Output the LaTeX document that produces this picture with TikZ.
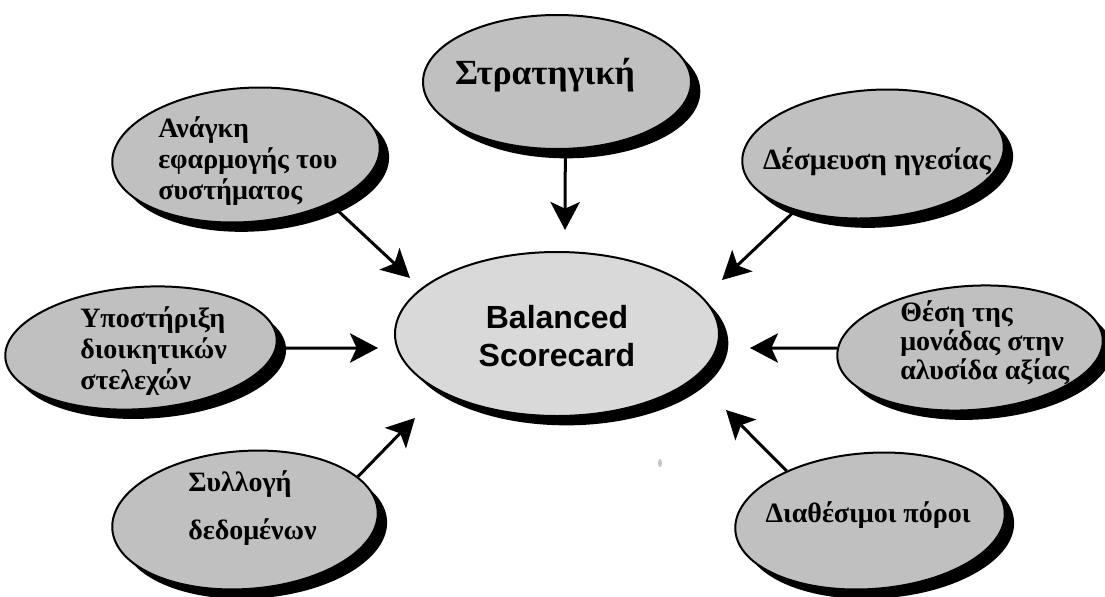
\documentclass[tikz,border=0pt]{standalone}
\usepackage{fontspec}
\setmainfont{Liberation Serif}
\newfontfamily\labelsans{Liberation Sans}
\usetikzlibrary{shapes.geometric,shadows,arrows.meta}
\definecolor{bubblegray}{RGB}{192,192,192}
\definecolor{hubgray}{RGB}{217,217,217}
\begin{document}
\begin{tikzpicture}[x=0.75pt,y=-0.75pt,
  bubble/.style={ellipse, draw=black, line width=1.5pt, fill=bubblegray, inner sep=0pt,
    drop shadow={shadow xshift=7pt, shadow yshift=-7pt, fill=black, opacity=1}},
  tilted/.style={bubble, rotate=4},
  hub/.style={bubble, fill=hubgray},
  txt/.style={inner sep=0pt, text=black, font=\bfseries\fontsize{21}{23.5}\selectfont},
  tighttxt/.style={inner sep=0pt, text=black, font=\bfseries\fontsize{21}{21.6}\selectfont},
  midtxt/.style={inner sep=0pt, text=black, font=\bfseries\fontsize{22}{22}\selectfont},
  bigtxt/.style={inner sep=0pt, text=black, font=\bfseries\fontsize{26.5}{28}\selectfont},
  hubtxt/.style={inner sep=0pt, text=black, align=center, font=\labelsans\bfseries\fontsize{24}{28.5}\selectfont},
  link/.style={line width=2.25pt, -{Stealth[length=21pt,width=22pt,inset=5pt]}}
]
\useasboundingbox (0,0) rectangle (1105,596);
\clip (0,0) rectangle (1105,596);

% central hub
\node[hub, minimum width=243pt, minimum height=123pt] (bsc) at (557,334) {};
\node[hubtxt] (bscT) at (557,336) {Balanced\\Scorecard};

% surrounding factors
\node[bubble, minimum width=201pt, minimum height=100.5pt] (strat) at (557,82) {};
\node[bigtxt] (stratT) at (545,75) {Στρατηγική};

\node[tilted, minimum width=201pt, minimum height=100.5pt] (need) at (246,155) {};
\node[txt, align=left, anchor=west] (needT) at (158,161) {Ανάγκη\\εφαρμογής του\\συστήματος};

\node[tilted, minimum width=196.5pt, minimum height=96pt] (lead) at (873,154) {};
\node[midtxt] (leadT) at (877,162) {Δέσμευση ηγεσίας};

\node[tilted, minimum width=204pt, minimum height=91.5pt] (mgmt) at (141,348) {};
\node[txt, align=left, anchor=west] (mgmtT) at (80,351) {Υποστήριξη\\διοικητικών\\στελεχών};

\node[tilted, minimum width=199.5pt, minimum height=93pt] (chain) at (970,348) {};
\node[tighttxt, align=left, anchor=west] (chainT) at (900,343) {Θέση της\\μονάδας στην\\αλυσίδα αξίας};

\node[tilted, minimum width=199.5pt, minimum height=103.5pt] (data) at (245,520) {};
\node[txt, align=left, anchor=west] (dataT) at (188,508) {Συλλογή\\[12pt]δεδομένων};

\node[tilted, minimum width=202.5pt, minimum height=102pt] (res) at (870,521) {};
\node[txt] (resT) at (868,515) {Διαθέσιμοι πόροι};

% arrow tips, short of the hub
\coordinate (tStrat) at (565,230);
\coordinate (tNeed) at (410,278);
\coordinate (tLead) at (722,280);
\coordinate (tMgmt) at (378,348);
\coordinate (tChain) at (750,348);
\coordinate (tData) at (415,418);
\coordinate (tRes) at (726,410);

\draw[link] (strat.-83) -- (tStrat);
\draw[link] (need.-34) -- (tNeed);
\draw[link] (lead.212) -- (tLead);
\draw[link] (mgmt.-4) -- (tMgmt);
\draw[link] (chain.176) -- (tChain);
\draw[link] (data.17) -- (tData);
\draw[link] (res.145) -- (tRes);

% small speck below the hub
\fill[gray!45] (660,463) ellipse (2 and 4);
\end{tikzpicture}
\end{document}
